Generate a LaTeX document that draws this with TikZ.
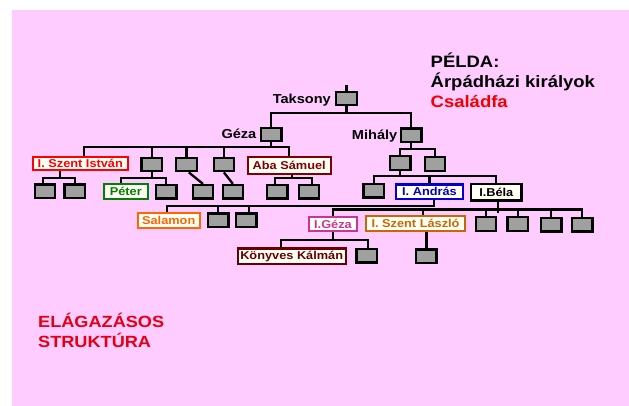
\documentclass[tikz,border=0pt]{standalone}
\usepackage{fontspec}
\newfontfamily\labfont[FakeStretch=1.12]{Liberation Sans}
\definecolor{bg}{RGB}{255,204,255}
\definecolor{boxgray}{RGB}{160,160,160}
\definecolor{istvanc}{RGB}{255,0,0}
\definecolor{peterc}{RGB}{0,128,0}
\definecolor{abac}{RGB}{128,0,0}
\definecolor{salamonc}{RGB}{255,102,0}
\definecolor{andrasc}{RGB}{0,0,204}
\definecolor{gezac}{RGB}{204,51,153}
\definecolor{laszloc}{RGB}{204,102,0}
\definecolor{kalmanc}{RGB}{102,0,0}
\definecolor{titlered}{RGB}{240,0,0}
\definecolor{strred}{RGB}{225,0,20}
\definecolor{labfill}{RGB}{255,255,245}
\newcommand\famedge[3]{\draw[link] (#1) |- (#2 |- #3) -- (#2);}
\begin{document}
\begin{tikzpicture}[x=1pt,y=-1pt,
  gbox/.style={draw=black, line width=2.3pt, fill=boxgray, minimum width=20.5pt, minimum height=13.5pt, inner sep=0pt},
  namebox/.style={draw=#1, text=#1, line width=2.2pt, fill=labfill, inner sep=0pt, font=\labfont\bfseries\fontsize{11.4}{13}\selectfont},
  person/.style={font=\labfont\bfseries\fontsize{13}{15}\selectfont, inner sep=0pt, anchor=base east},
  titletext/.style={font=\labfont\bfseries\fontsize{16.5}{20}\selectfont, inner sep=0pt, anchor=base west},
  bigtext/.style={font=\labfont\bfseries\fontsize{16.2}{20}\selectfont, inner sep=0pt, anchor=base west, text=strred},
  link/.style={draw=black, line width=2.3pt},
]
\useasboundingbox (0,0) rectangle (629,406);
\fill[white] (0,0) rectangle (629,406);
\fill[bg] (12,10) rectangle (629,406);

% gray boxes
\node[gbox] (taksony) at (346.5,98.5) {};
\node[gbox] (geza) at (271.3,134.5) {};
\node[gbox] (mihaly) at (411.3,135.2) {};
\node[gbox] (g2) at (151.7,164.5) {};
\node[gbox] (g3) at (186.5,164.5) {};
\node[gbox] (g4) at (223.9,164.5) {};
\node[gbox] (ia) at (45,191.3) {};
\node[gbox] (ib) at (74.7,191.3) {};
\node[gbox] (g2b) at (166.3,191.8) {};
\node[gbox] (g3c) at (203,191.8) {};
\node[gbox] (g4c) at (232.9,191.8) {};
\node[gbox] (aa) at (277.2,191.8) {};
\node[gbox] (ab) at (308.9,191.8) {};
\node[gbox] (m1) at (400.3,163) {};
\node[gbox] (m2) at (435,164) {};
\node[gbox] (m1a) at (373.7,190.7) {};
\node[gbox] (sa) at (218.3,220.2) {};
\node[gbox] (sb) at (246.2,220.2) {};
\node[gbox] (b1) at (486,224) {};
\node[gbox] (b2) at (517.7,224) {};
\node[gbox] (b3) at (551.3,224.7) {};
\node[gbox] (b4) at (582.2,224.7) {};
\node[gbox] (kk2) at (366.7,255.8) {};
\node[gbox] (lc) at (426.3,256.2) {};

% name labels beside boxes
\node[person] (taksonyname) at (331,103.3) {Taksony};
\node[person] (gezaname) at (256.5,138.6) {Géza};
\node[person] (mihalyname) at (397.5,139.5) {Mihály};

% named boxes
\node[namebox=istvanc, minimum width=95.1pt, minimum height=13.6pt] (istvan) at (80.3,163.6) {I. Szent István};
\node[namebox=peterc, minimum width=44.1pt, minimum height=15.1pt] (peter) at (125.8,191.3) {Péter};
\node[namebox=abac, minimum width=82.8pt, minimum height=16.8pt] (aba) at (289.2,165.5) {Aba Sámuel};
\node[namebox=andrasc, minimum width=66.8pt, minimum height=14.5pt] (andras) at (429.5,191.7) {I. András};
\node[namebox=black, minimum width=50.5pt, minimum height=16.2pt] (bela) at (496.3,192.5) {I.Béla};
\node[namebox=salamonc, minimum width=61.8pt, minimum height=15.4pt] (salamon) at (168.7,220.5) {Salamon};
\node[namebox=gezac, minimum width=48.4pt, minimum height=14.4pt] (igeza) at (333,224) {I.Géza};
\node[namebox=laszloc, minimum width=98.8pt, minimum height=15.1pt] (laszlo) at (415.5,223.7) {I. Szent László};
\node[namebox=kalmanc, minimum width=107.8pt, minimum height=15.5pt] (kalman) at (291.7,256.2) {Könyves Kálmán};

% bus levels and shifted anchors
\coordinate (topend) at (346.5,85);
\coordinate (busT) at (0,113);
\coordinate (busG) at (0,146.7);
\coordinate (busI) at (0,178.3);
\coordinate (busP) at (0,177.7);
\coordinate (busA) at (0,178.3);
\coordinate (busM) at (0,149.3);
\coordinate (busM1) at (0,176);
\coordinate (busAn) at (0,206);
\coordinate (busB) at (0,209.5);
\coordinate (busIG) at (0,240);
\coordinate (belastub) at (0,213);

\coordinate (istvanN) at ([xshift=3.7pt]istvan.north);
\coordinate (istvanS) at ([xshift=-20.3pt]istvan.south);
\coordinate (iaN) at ([xshift=-2.3pt]ia.north);
\coordinate (peterN) at ([xshift=-4.8pt]peter.north);
\coordinate (g3S) at ([xshift=2.3pt]g3.south);
\coordinate (abaS) at ([xshift=2.5pt]aba.south);
\coordinate (aaN) at ([xshift=-2.2pt]aa.north);
\coordinate (abN) at ([xshift=3.4pt]ab.north);
\coordinate (andrasS) at ([xshift=4.8pt]andras.south);
\coordinate (salamonN) at ([xshift=-2pt]salamon.north);
\coordinate (sbN) at ([xshift=2.8pt]sb.north);
\coordinate (belaS) at ([xshift=1.4pt]bela.south);
\coordinate (laszloN) at ([xshift=7.2pt]laszlo.north);
\coordinate (laszloS) at ([xshift=11pt]laszlo.south);
\coordinate (kalmanN) at ([xshift=-11pt]kalman.north);
\coordinate (kk2N) at ([xshift=1.6pt]kk2.north);

% connectors
\draw[link] (topend) -- (taksony.north);
\famedge{taksony.south}{geza.north}{busT}
\famedge{taksony.south}{mihaly.north}{busT}

\famedge{geza.south}{istvanN}{busG}
\famedge{geza.south}{g2.north}{busG}
\famedge{geza.south}{g3.north}{busG}
\famedge{geza.south}{g4.north}{busG}
\famedge{geza.south}{aba.north}{busG}

\famedge{istvanS}{iaN}{busI}
\famedge{istvanS}{ib.north}{busI}
\famedge{g2.south}{peterN}{busP}
\famedge{g2.south}{g2b.north}{busP}
\draw[link] (g3S) -- (g3c.north);
\draw[link] (g4.south) -- (g4c.north);
\famedge{abaS}{aaN}{busA}
\famedge{abaS}{abN}{busA}

\famedge{mihaly.south}{m1.north}{busM}
\famedge{mihaly.south}{m2.north}{busM}
\famedge{m1.south}{m1a.north}{busM1}
\famedge{m1.south}{andras.north}{busM1}
\famedge{m1.south}{bela.north}{busM1}

\famedge{andrasS}{salamonN}{busAn}
\famedge{andrasS}{sa.north}{busAn}
\famedge{andrasS}{sbN}{busAn}

\draw[link] (belaS) -- (belaS |- belastub);
\famedge{belaS}{igeza.north}{busB}
\famedge{belaS}{laszloN}{busB}
\famedge{belaS}{b1.north}{busB}
\famedge{belaS}{b2.north}{busB}
\famedge{belaS}{b3.north}{busB}
\famedge{belaS}{b4.north}{busB}

\famedge{igeza.south}{kalmanN}{busIG}
\famedge{igeza.south}{kk2N}{busIG}
\draw[link] (laszloS) -- (laszloS |- lc.north);

% titles
\node[titletext] (t1) at (430.5,68) {PÉLDA:};
\node[titletext] (t2) at (430.5,88) {Árpádházi királyok};
\node[titletext, text=titlered] (t3) at (430.5,108) {Családfa};
\node[bigtext] (s1) at (38,327) {ELÁGAZÁSOS};
\node[bigtext] (s2) at (38,347) {STRUKTÚRA};
\end{tikzpicture}
\end{document}
